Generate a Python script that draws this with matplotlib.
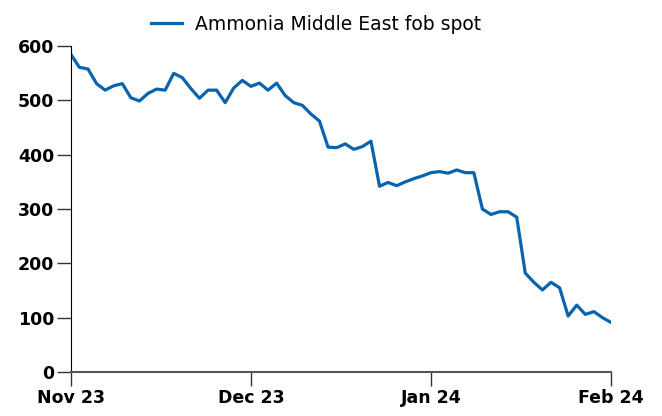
import numpy as np
import matplotlib.pyplot as plt

# Ammonia Middle East fob spot, business-day series Nov 23 - Feb 24
prices = [585, 561, 558, 531, 519, 527, 531, 505, 499, 513,
          521, 519, 550, 542, 522, 504, 519, 519, 496, 523,
          537, 526, 532, 519, 532, 509, 496, 491, 475, 462,
          414, 413, 420, 410, 415, 425, 342, 349, 343, 350,
          356, 361, 367, 369, 366, 372, 367, 367, 300, 290,
          295, 295, 285, 182, 165, 151, 165, 155, 103, 123,
          106, 111, 100, 91]
month_labels = ['Nov 23', 'Dec 23', 'Jan 24', 'Feb 24']
y_ticks = [0, 100, 200, 300, 400, 500, 600]

x = np.arange(len(prices))
month_pos = np.linspace(0, len(prices) - 1, len(month_labels))

fig = plt.figure(figsize=(6.62, 4.16), dpi=100)
ax = fig.add_axes([0.107, 0.106, 0.816, 0.783])

ax.plot(x, prices, color='#0a64ad', lw=2.3, label='Ammonia Middle East fob spot')

ax.set_xlim(0, len(prices) - 1)
ax.set_ylim(0, 600)
ax.set_xticks(month_pos)
ax.set_xticklabels(month_labels)
ax.set_yticks(y_ticks)

for s in ['top', 'right']:
    ax.spines[s].set_visible(False)
ax.spines['left'].set_color('black')
ax.spines['bottom'].set_color('#555555')
ax.spines['bottom'].set_linewidth(1.5)
ax.spines['bottom'].set_zorder(3)

ax.tick_params(axis='both', length=10, width=1, color='#333333',
               labelsize=12.5, pad=2)
for lab in ax.get_xticklabels() + ax.get_yticklabels():
    lab.set_fontweight('bold')

fig.legend(loc='upper center', bbox_to_anchor=(0.478, 1.005), frameon=False,
           fontsize=13.5, handlelength=1.65, handletextpad=0.7)

fig.savefig('out.png', dpi=100)
